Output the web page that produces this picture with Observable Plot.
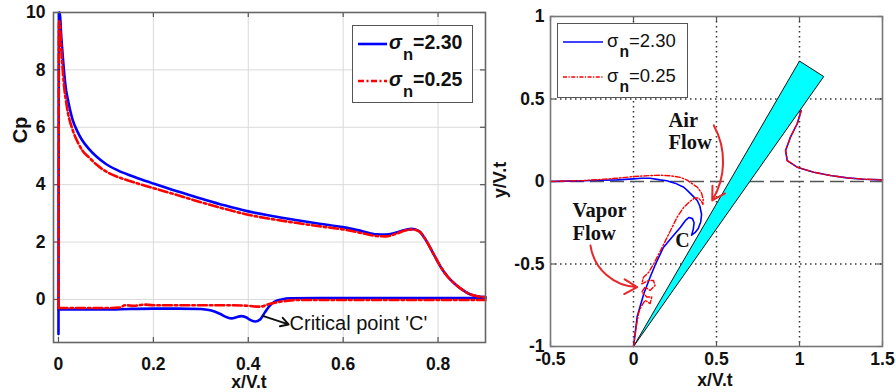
<!DOCTYPE html>
<html><head><meta charset="utf-8">
<script src="https://cdn.jsdelivr.net/npm/d3@7"></script>
<script src="https://cdn.jsdelivr.net/npm/@observablehq/plot@0.6"></script>
<style>
body{margin:0;background:#fff;width:896px;height:392px;overflow:hidden;position:relative;font-family:"Liberation Sans",Arial,sans-serif;}
#left{position:absolute;left:0;top:0;}
#right{position:absolute;left:500px;top:0;}
.lab{position:absolute;font-weight:bold;color:#111;white-space:nowrap;line-height:1;}
.legend{position:absolute;background:#fff;border:1.5px solid #555;box-sizing:border-box;}
.row{position:absolute;white-space:nowrap;line-height:1;color:#111;}
</style>
</head><body>
<div id="left"></div>
<div id="right"></div>
<script>
// ---------- Left panel: Cp vs x/V.t ----------
const seriesNames = ["σn=2.30", "σn=0.25"];
const leftXTicks = [0, 0.2, 0.4, 0.6, 0.8];
const leftYTicks = [0, 2, 4, 6, 8, 10];
const cpUpperX = [0, 0.001, 0.003, 0.005, 0.008, 0.012, 0.016, 0.02, 0.03, 0.04, 0.05, 0.065, 0.08, 0.1, 0.125, 0.15, 0.175, 0.2, 0.25, 0.3, 0.35, 0.4, 0.45, 0.5, 0.55, 0.6, 0.64, 0.67, 0.69, 0.71, 0.73, 0.745, 0.76, 0.775, 0.79, 0.805, 0.82, 0.835, 0.85, 0.865, 0.88, 0.9];
const cpUpperBlue = [-1.2, 10, 10, 9.4, 8.7, 7.9, 7.3, 6.95, 6.25, 5.85, 5.55, 5.23, 4.98, 4.72, 4.5, 4.33, 4.18, 4.04, 3.77, 3.52, 3.28, 3.07, 2.91, 2.77, 2.64, 2.52, 2.38, 2.27, 2.26, 2.32, 2.42, 2.46, 2.38, 2.05, 1.6, 1.15, 0.8, 0.55, 0.35, 0.2, 0.12, 0.08];
const cpUpperRed = [-0.3, 9.7, 9.6, 9.0, 8.2, 7.4, 6.9, 6.5, 5.9, 5.5, 5.2, 4.94, 4.7, 4.46, 4.27, 4.13, 4.0, 3.88, 3.64, 3.39, 3.16, 2.95, 2.8, 2.67, 2.55, 2.44, 2.31, 2.21, 2.2, 2.28, 2.4, 2.44, 2.37, 2.05, 1.6, 1.15, 0.8, 0.55, 0.35, 0.2, 0.12, 0.08];
const cpLowerBlueX = [0, 0.003, 0.05, 0.1, 0.15, 0.2, 0.25, 0.3, 0.32, 0.34, 0.355, 0.365, 0.375, 0.385, 0.395, 0.405, 0.415, 0.425, 0.435, 0.445, 0.455, 0.47, 0.49, 0.55, 0.7, 0.9];
const cpLowerBlue = [-0.35, -0.35, -0.35, -0.35, -0.33, -0.32, -0.32, -0.33, -0.38, -0.5, -0.62, -0.66, -0.62, -0.58, -0.62, -0.72, -0.77, -0.7, -0.45, -0.22, -0.08, 0.0, 0.04, 0.05, 0.05, 0.05];
const cpLowerRedX = [0, 0.003, 0.05, 0.1, 0.13, 0.14, 0.16, 0.18, 0.2, 0.25, 0.3, 0.35, 0.4, 0.42, 0.43, 0.44, 0.46, 0.48, 0.5, 0.6, 0.9];
const cpLowerRed = [-0.3, -0.3, -0.3, -0.3, -0.28, -0.2, -0.22, -0.18, -0.2, -0.2, -0.2, -0.2, -0.22, -0.25, -0.24, -0.18, -0.1, -0.05, -0.02, -0.02, -0.02];
const critText = ["Critical point 'C'"];
const critTextX = [0.487], critTextY = [-0.85];
const critArrow = [[0.432, -0.58, 0.485, -0.87]];

// ---------- Right panel: flow paths ----------
const rightXTicks = [-0.5, 0, 0.5, 1, 1.5];
const rightYTicks = [-1, -0.5, 0, 0.5, 1];
const rightGridX = [0, 0.5, 1];
const rightGridY = [-0.5, 0.5];
const fbBlueX = [0, 0.022, 0.062, 0.10, 0.133, 0.18, 0.233, 0.283, 0.313, 0.335, 0.355, 0.365, 0.36, 0.35, 0.37, 0.39, 0.405, 0.41, 0.40, 0.384, 0.36, 0.33, 0.303, 0.25, 0.2, 0.16, 0.1, 0.05, 0, -0.1, -0.2, -0.3, -0.4, -0.5];
const fbBlueY = [-1, -0.82, -0.68, -0.58, -0.5, -0.4, -0.337, -0.277, -0.236, -0.218, -0.225, -0.25, -0.29, -0.325, -0.31, -0.285, -0.245, -0.2, -0.15, -0.115, -0.09, -0.06, -0.035, -0.01, 0.005, 0.01, 0.02, 0.02, 0.016, 0.01, 0.008, 0.005, 0.002, 0];
const fbRedX = [0, 0.01, 0.02, 0.03, 0.045, 0.07, 0.1, 0.11, 0.08, 0.05, 0.07, 0.1, 0.13, 0.12, 0.09, 0.05, 0.06, 0.092, 0.122, 0.153, 0.183, 0.223, 0.263, 0.303, 0.34, 0.37, 0.39, 0.41, 0.418, 0.42, 0.41, 0.385, 0.363, 0.32, 0.283, 0.22, 0.163, 0.1, 0, -0.1, -0.2, -0.3, -0.4, -0.5];
const fbRedY = [-1, -0.93, -0.86, -0.8, -0.76, -0.72, -0.74, -0.7, -0.7, -0.67, -0.64, -0.66, -0.63, -0.6, -0.6, -0.62, -0.58, -0.55, -0.499, -0.438, -0.378, -0.297, -0.216, -0.156, -0.12, -0.1, -0.1, -0.12, -0.14, -0.11, -0.07, -0.035, -0.02, 0.01, 0.025, 0.035, 0.038, 0.036, 0.03, 0.02, 0.012, 0.006, 0.003, 0];
const tipX = [1.01, 0.986, 0.946, 0.916, 0.926, 0.986, 1.086, 1.187, 1.287, 1.387, 1.5];
const tipY = [0.43, 0.35, 0.27, 0.188, 0.127, 0.087, 0.056, 0.036, 0.022, 0.014, 0.01];
const wedgeX = [0, 1.0, 1.146, 0];
const wedgeY = [-1, 0.73, 0.636, -1];
const rightNotes = ["Air", "Flow", "Vapor", "Flow"];
const rightNotesX = [0.211, 0.211, -0.367, -0.367];
const rightNotesY = [0.37, 0.236, -0.176, -0.315];
const cLabel = ["C"], cLabelX = [0.295], cLabelY = [-0.357];
const airArrow = [[0.484, 0.34, 0.474, -0.115]];
const vaporArrow = [[-0.259, -0.388, 0.022, -0.64]];

const pts = (xs, ys, seg) => xs.map((x, i) => ({x, y: ys[i], seg}));
const blueLeft = [...pts(cpUpperX, cpUpperBlue, "u"), ...pts(cpLowerBlueX, cpLowerBlue, "l")];
const redLeft = [...pts(cpUpperX, cpUpperRed, "u"), ...pts(cpLowerRedX, cpLowerRed, "l")];
const blueRight = [...pts(fbBlueX, fbBlueY, "m"), ...pts(tipX, tipY, "t")];
const redRight = [...pts(fbRedX, fbRedY, "m"), ...pts(tipX, tipY, "t")];
const wedge = pts(wedgeX, wedgeY, "w");

const fmt = d => String(d);
const LH = 392, LT = 12, LB = 50, LIH = LH - LT - LB;
const left = Plot.plot({
  width: 500, height: LH, marginLeft: 53, marginRight: 15, marginTop: LT, marginBottom: LB,
  style: {fontFamily: "'Liberation Sans', Arial, sans-serif", fontSize: "17.5px", fontWeight: "bold", color: "#111", background: "transparent", overflow: "visible"},
  x: {domain: [-0.0105, 0.9]},
  y: {domain: [-1.5, 10]},
  marks: [
    Plot.gridX(leftXTicks, {stroke: "#dadada", strokeOpacity: 1, strokeWidth: 1}),
    Plot.gridY(leftYTicks, {stroke: "#dadada", strokeOpacity: 1, strokeWidth: 1}),
    Plot.tickX(leftXTicks, {x: d => d, insetTop: LIH - 5, stroke: "#555", strokeWidth: 1.2}),
    Plot.tickX(leftXTicks, {x: d => d, insetBottom: LIH - 5, stroke: "#555", strokeWidth: 1.2}),
    Plot.tickY(leftYTicks, {y: d => d, insetRight: 432 - 5, stroke: "#555", strokeWidth: 1.2}),
    Plot.tickY(leftYTicks, {y: d => d, insetLeft: 432 - 5, stroke: "#555", strokeWidth: 1.2}),
    Plot.axisX(leftXTicks, {tickSize: 0, tickPadding: 15, tickFormat: fmt, label: null}),
    Plot.axisY(leftYTicks, {tickSize: 0, tickPadding: 8, tickFormat: fmt, label: null}),
    Plot.line(blueLeft, {x: "x", y: "y", z: "seg", stroke: "#0000ff", strokeWidth: 2.6, curve: "monotone-x"}),
    Plot.line(redLeft, {x: "x", y: "y", z: "seg", stroke: "#ff0000", strokeWidth: 2.6, strokeDasharray: "9,3,2.5,3", curve: "monotone-x"}),
    Plot.arrow(critArrow, {x1: d => d[0], y1: d => d[1], x2: d => d[2], y2: d => d[3], stroke: "#111", strokeWidth: 2, headLength: 10}),
    Plot.text(critText, {x: () => critTextX[0], y: () => critTextY[0], text: d => d, textAnchor: "start", fontSize: 20, fontWeight: "normal", fill: "#111"}),
    Plot.frame({stroke: "#666", strokeWidth: 1.6})
  ]
});
document.getElementById("left").appendChild(left);

const RH = 392, RT = 16, RB = 46, RIH = RH - RT - RB, RIW = 396 - 50 - 14;
const arrowOpts = {x1: d => d[0], y1: d => d[1], x2: d => d[2], y2: d => d[3], stroke: "#e8272a", strokeWidth: 2, headLength: 11};
const right = Plot.plot({
  width: 396, height: RH, marginLeft: 50, marginRight: 14, marginTop: RT, marginBottom: RB,
  style: {fontFamily: "'Liberation Sans', Arial, sans-serif", fontSize: "17.5px", fontWeight: "bold", color: "#111", background: "transparent", overflow: "visible"},
  x: {domain: [-0.5, 1.5]},
  y: {domain: [-1, 1]},
  marks: [
    Plot.gridX(rightGridX, {stroke: "#333", strokeOpacity: 1, strokeWidth: 1.5, strokeDasharray: "1.5,3.5"}),
    Plot.gridY(rightGridY, {stroke: "#333", strokeOpacity: 1, strokeWidth: 1.5, strokeDasharray: "1.5,3.5"}),
    Plot.ruleY([0], {stroke: "#555", strokeWidth: 1.5, strokeDasharray: "14,6"}),
    Plot.tickX(rightXTicks, {x: d => d, insetTop: RIH - 5, stroke: "#555", strokeWidth: 1.2}),
    Plot.tickX(rightXTicks, {x: d => d, insetBottom: RIH - 5, stroke: "#555", strokeWidth: 1.2}),
    Plot.tickY(rightYTicks, {y: d => d, insetRight: RIW - 5, stroke: "#555", strokeWidth: 1.2}),
    Plot.tickY(rightYTicks, {y: d => d, insetLeft: RIW - 5, stroke: "#555", strokeWidth: 1.2}),
    Plot.axisX(rightXTicks, {tickSize: 0, tickPadding: 6, tickFormat: fmt, label: null}),
    Plot.axisY(rightYTicks, {tickSize: 0, tickPadding: 6, tickFormat: fmt, label: null}),
    Plot.line(wedge, {x: "x", y: "y", fill: "#00ffff", stroke: "#111", strokeWidth: 1}),
    Plot.line(blueRight, {x: "x", y: "y", z: "seg", stroke: "#0000ff", strokeWidth: 1.6}),
    Plot.line(redRight, {x: "x", y: "y", z: "seg", stroke: "#ff0000", strokeWidth: 1.4, strokeDasharray: "5,2,1.5,2"}),
    Plot.arrow(airArrow, {...arrowOpts, bend: 30}),
    Plot.arrow(vaporArrow, {...arrowOpts, bend: -40}),
    Plot.text(rightNotes, {x: (d, i) => rightNotesX[i], y: (d, i) => rightNotesY[i], text: d => d, textAnchor: "start", fontSize: 20.5, fontWeight: "bold", fontFamily: "'Liberation Serif', 'Times New Roman', serif", fill: "#111"}),
    Plot.text(cLabel, {x: () => cLabelX[0], y: () => cLabelY[0], text: d => d, fontSize: 20, fontWeight: "bold", fontFamily: "'Liberation Serif', 'Times New Roman', serif", fill: "#111"}),
    Plot.frame({stroke: "#777", strokeWidth: 1.6})
  ]
});
document.getElementById("right").appendChild(right);

// ---------- Axis labels ----------
function addLabel(text, cx, cy, size, rotate) {
  const d = document.createElement("div");
  d.className = "lab";
  d.textContent = text;
  d.style.fontSize = size + "px";
  d.style.left = cx + "px";
  d.style.top = cy + "px";
  d.style.transform = "translate(-50%,-50%)" + (rotate ? " rotate(-90deg)" : "");
  document.body.appendChild(d);
}
addLabel("Cp", 20, 130, 20, true);
addLabel("x/V.t", 249, 383, 17.5, false);
addLabel("y/V.t", 500, 180, 18, true);
addLabel("x/V.t", 715, 381, 17.5, false);

// ---------- Legends ----------
function legend(box, rows) {
  const b = document.createElement("div");
  b.className = "legend";
  Object.assign(b.style, {left: box.x + "px", top: box.y + "px", width: box.w + "px", height: box.h + "px"});
  document.body.appendChild(b);
  rows.forEach(r => {
    const s = document.createElementNS("http://www.w3.org/2000/svg", "svg");
    s.setAttribute("width", r.lw); s.setAttribute("height", 8);
    s.style.position = "absolute"; s.style.left = r.lx + "px"; s.style.top = (r.cy - 4) + "px";
    const ln = document.createElementNS("http://www.w3.org/2000/svg", "line");
    ln.setAttribute("x1", 0); ln.setAttribute("x2", r.lw); ln.setAttribute("y1", 4); ln.setAttribute("y2", 4);
    ln.setAttribute("stroke", r.color); ln.setAttribute("stroke-width", r.sw);
    if (r.dash) ln.setAttribute("stroke-dasharray", r.dash);
    s.appendChild(ln);
    document.body.appendChild(s);
    const t = document.createElement("div");
    t.className = "row";
    t.style.left = r.tx + "px"; t.style.top = (r.cy - r.fs * 0.55) + "px";
    t.style.fontSize = r.fs + "px"; t.style.fontWeight = r.fw;
    const name = r.name;
    t.innerHTML = `<span style="font-style:${r.italic ? "italic" : "normal"}">${name[0]}</span><span style="position:relative;top:${r.fs * 0.55}px;font-size:${r.fs * 0.85}px;font-weight:bold;margin-left:1px">${name[1]}</span><span>${name.slice(2)}</span>`;
    document.body.appendChild(t);
  });
}
legend({x: 352, y: 25, w: 121, h: 78}, [
  {name: seriesNames[0], lx: 358, lw: 29, cy: 44, tx: 389, color: "#0000ff", sw: 2.6, fs: 19.5, fw: "bold", italic: true},
  {name: seriesNames[1], lx: 358, lw: 29, cy: 81, tx: 389, color: "#ff0000", sw: 2.6, dash: "6,2.5,2,2.5", fs: 19.5, fw: "bold", italic: true}
]);
legend({x: 557, y: 23, w: 131, h: 75}, [
  {name: seriesNames[0], lx: 563, lw: 40, cy: 42, tx: 607, color: "#0000ff", sw: 1.6, fs: 18.5, fw: "normal", italic: false},
  {name: seriesNames[1], lx: 563, lw: 40, cy: 77, tx: 607, color: "#ff0000", sw: 1.4, dash: "4,1.5,1.2,1.5", fs: 18.5, fw: "normal", italic: false}
]);
</script>
</body></html>
